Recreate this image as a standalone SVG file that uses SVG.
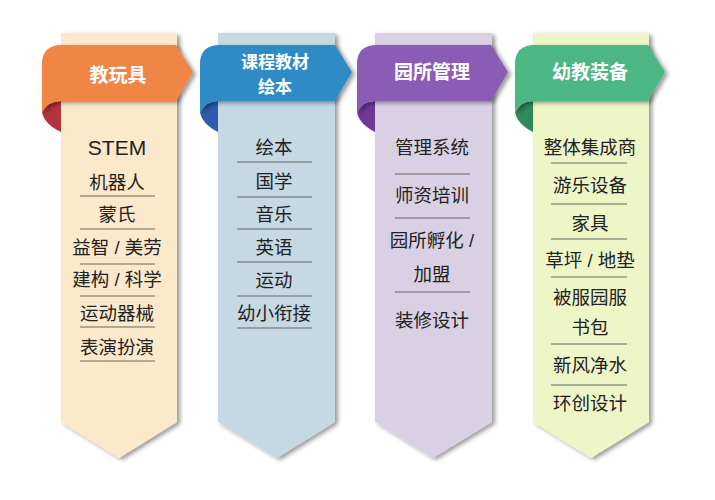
<svg xmlns="http://www.w3.org/2000/svg" width="715" height="500" viewBox="0 0 715 500">
<defs>
<filter id="sh" x="-20%" y="-10%" width="140%" height="120%">
<feDropShadow dx="3" dy="2" stdDeviation="2" flood-color="#000" flood-opacity="0.4"/>
</filter>
<style>
.item{font-family:"Liberation Sans","Noto Sans CJK SC",sans-serif;font-size:18.5px;fill:#222;text-anchor:middle;dominant-baseline:central}
.head{font-family:"Noto Sans CJK SC","Liberation Sans",sans-serif;font-size:19px;font-weight:bold;fill:#fff;text-anchor:middle;dominant-baseline:central}
.head2{font-size:17px}
.sep{stroke:#66665c;stroke-width:1}
</style>
</defs>
<rect width="715" height="500" fill="#fff"/>

<g id="col1">
<path d="M61,33 H177 V422 L119,458 L61,422 Z" fill="#FCE9CB" filter="url(#sh)"/>
<path d="M42,112 Q48,101 61,101 L61,132 Q44,124 42,112 Z" fill="#B5333A"/>
<path d="M42,112 L42,64 Q42,45 62,45 L176,45 L193,72 L176,101 L61,101 Q48,101 42,112 Z" fill="#F08544" filter="url(#sh)"/>
<text class="head" x="118" y="73">教玩具</text>
<text class="item" x="117" y="147" style="font-size:21px">STEM</text>
<text class="item" x="117" y="182">机器人</text>
<line class="sep" x1="80" y1="196" x2="155" y2="196"/>
<text class="item" x="117" y="214">蒙氏</text>
<line class="sep" x1="80" y1="229" x2="155" y2="229"/>
<text class="item" x="117" y="247">益智 / 美劳</text>
<line class="sep" x1="80" y1="264" x2="155" y2="264"/>
<text class="item" x="117" y="279">建构 / 科学</text>
<line class="sep" x1="80" y1="296" x2="155" y2="296"/>
<text class="item" x="117" y="313">运动器械</text>
<line class="sep" x1="80" y1="327" x2="155" y2="327"/>
<text class="item" x="117" y="347">表演扮演</text>
<line class="sep" x1="80" y1="361" x2="155" y2="361"/>
</g>

<g id="col2">
<path d="M218,33 H335 V422 L277,458 L218,422 Z" fill="#C5D9E3" filter="url(#sh)"/>
<path d="M200,112 Q206,101 218,101 L218,132 Q202,124 200,112 Z" fill="#2B5CAD"/>
<path d="M200,112 L200,64 Q200,45 220,45 L335,45 L352,72 L335,101 L218,101 Q206,101 200,112 Z" fill="#2E8BC6" filter="url(#sh)"/>
<text class="head head2" x="275" y="60">课程教材</text>
<text class="head head2" x="275" y="85.5">绘本</text>
<text class="item" x="274" y="147">绘本</text>
<line class="sep" x1="237" y1="162" x2="312" y2="162"/>
<text class="item" x="274" y="181">国学</text>
<line class="sep" x1="237" y1="197" x2="312" y2="197"/>
<text class="item" x="274" y="214">音乐</text>
<line class="sep" x1="237" y1="229" x2="312" y2="229"/>
<text class="item" x="274" y="247">英语</text>
<line class="sep" x1="237" y1="262" x2="312" y2="262"/>
<text class="item" x="274" y="280">运动</text>
<line class="sep" x1="237" y1="296" x2="312" y2="296"/>
<text class="item" x="274" y="313">幼小衔接</text>
<line class="sep" x1="237" y1="328" x2="312" y2="328"/>
</g>

<g id="col3">
<path d="M375,33 H492 V422 L433,458 L375,422 Z" fill="#D9D0E3" filter="url(#sh)"/>
<path d="M357,112 Q363,101 375,101 L375,132 Q359,124 357,112 Z" fill="#6E3A98"/>
<path d="M357,112 L357,64 Q357,45 377,45 L491,45 L508,72 L491,101 L375,101 Q363,101 357,112 Z" fill="#8B5CB5" filter="url(#sh)"/>
<text class="head" x="432" y="70">园所管理</text>
<text class="item" x="432" y="147">管理系统</text>
<line class="sep" x1="395" y1="174" x2="470" y2="174"/>
<text class="item" x="432" y="195">师资培训</text>
<line class="sep" x1="395" y1="218" x2="470" y2="218"/>
<text class="item" x="432" y="240">园所孵化 /</text>
<text class="item" x="432" y="274">加盟</text>
<line class="sep" x1="395" y1="292" x2="470" y2="292"/>
<text class="item" x="432" y="320">装修设计</text>
</g>

<g id="col4">
<path d="M533,33 H649 V422 L591,458 L533,422 Z" fill="#EEF5C7" filter="url(#sh)"/>
<path d="M515,112 Q521,101 533,101 L533,132 Q517,124 515,112 Z" fill="#2E8A5C"/>
<path d="M515,112 L515,64 Q515,45 535,45 L648,45 L665,72 L648,101 L533,101 Q521,101 515,112 Z" fill="#4DB784" filter="url(#sh)"/>
<text class="head" x="590" y="70">幼教装备</text>
<text class="item" x="590" y="147">整体集成商</text>
<line class="sep" x1="551" y1="163" x2="627" y2="163"/>
<text class="item" x="590" y="185">游乐设备</text>
<line class="sep" x1="551" y1="204" x2="627" y2="204"/>
<text class="item" x="590" y="223">家具</text>
<line class="sep" x1="551" y1="239" x2="627" y2="239"/>
<text class="item" x="590" y="260">草坪 / 地垫</text>
<line class="sep" x1="551" y1="277" x2="627" y2="277"/>
<text class="item" x="590" y="297">被服园服</text>
<text class="item" x="590" y="327">书包</text>
<line class="sep" x1="551" y1="344" x2="627" y2="344"/>
<text class="item" x="590" y="365">新风净水</text>
<line class="sep" x1="551" y1="385" x2="627" y2="385"/>
<text class="item" x="590" y="403">环创设计</text>
</g>

<g id="connectors"></g>
</svg>
